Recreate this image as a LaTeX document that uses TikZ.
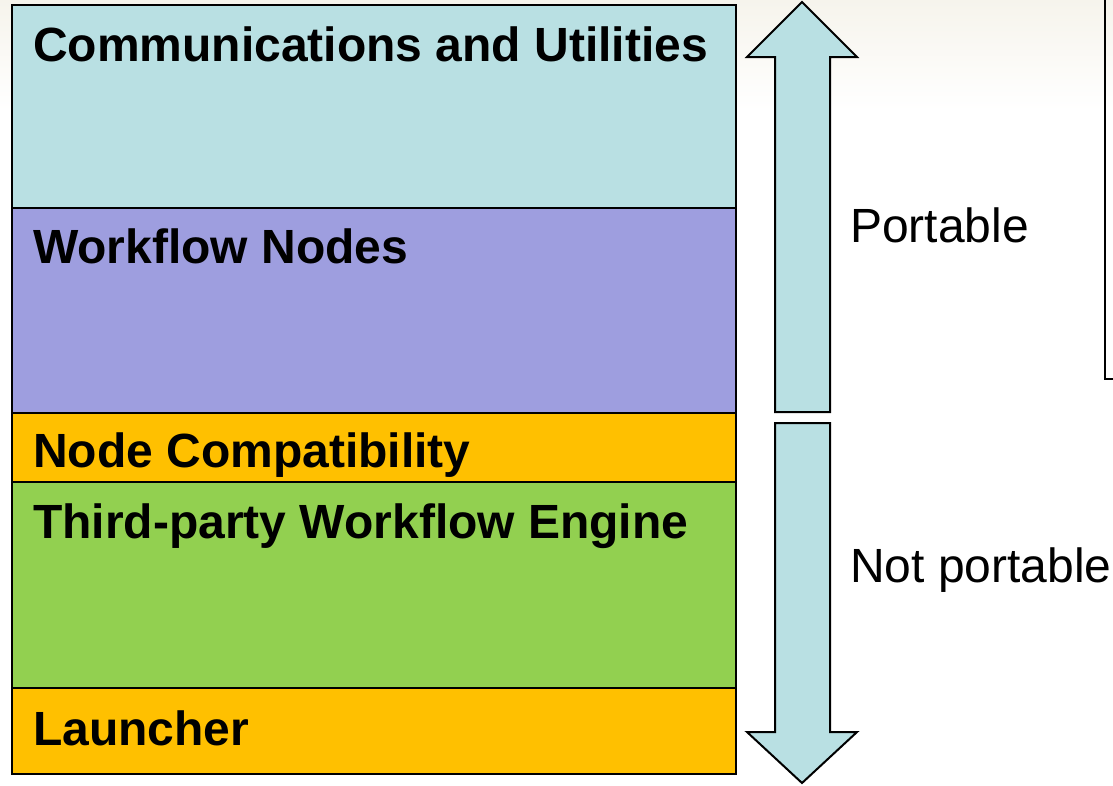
\documentclass[tikz,border=0pt]{standalone}
\usepackage{fontspec}
\setmainfont{Liberation Sans}
\definecolor{commcol}{RGB}{185,224,227}
\definecolor{wfcol}{RGB}{158,158,223}
\definecolor{compcol}{RGB}{255,192,0}
\definecolor{enginecol}{RGB}{146,208,80}
\definecolor{creamcol}{RGB}{246,244,236}
\tikzset{
  layer/.style={draw=black,line width=2pt},
  layertext/.style={anchor=base west,inner sep=0pt,font=\fontsize{48}{48}\selectfont\bfseries},
  sidetext/.style={anchor=base west,inner sep=0pt,font=\fontsize{48}{48}\selectfont},
  bigarrow/.style={draw=black,fill=commcol,line width=2pt,line join=miter}
}
\begin{document}
\begin{tikzpicture}[x=1pt,y=-1pt]
  \useasboundingbox (0,0) rectangle (1113,785);
  % faint background at the top
  \shade[top color=creamcol,bottom color=white] (0,0) rectangle (1113,110);
  % stack of layers
  \draw[layer,fill=commcol]   (12,5)   rectangle (736,208);
  \draw[layer,fill=wfcol]     (12,208) rectangle (736,413);
  \draw[layer,fill=compcol]   (12,413) rectangle (736,482);
  \draw[layer,fill=enginecol] (12,482) rectangle (736,688);
  \draw[layer,fill=compcol]   (12,688) rectangle (736,774);
  \node[layertext] (comm)   at (33,61)  {Communications and Utilities};
  \node[layertext] (wfnode) at (33,263) {Workflow Nodes};
  \node[layertext] (compat) at (33,467) {Node Compatibility};
  \node[layertext] (engine) at (33,538) {Third-party Workflow Engine};
  \node[layertext] (launch) at (33,745) {Launcher};
  % arrows
  \draw[bigarrow] (775,412) -- (775,57) -- (747,57) -- (802,2) -- (857,57)
    -- (830,57) -- (830,412) -- cycle;
  \draw[bigarrow] (775,423) -- (775,732) -- (747,732) -- (802,783) -- (857,732)
    -- (830,732) -- (830,423) -- cycle;
  \node[sidetext] (port)    at (850,242) {Portable};
  \node[sidetext] (notport) at (850,582) {Not portable};
  % edge of the box at the right
  \draw[line width=2pt] (1105,0) -- (1105,379) -- (1114,379);
\end{tikzpicture}
\end{document}
